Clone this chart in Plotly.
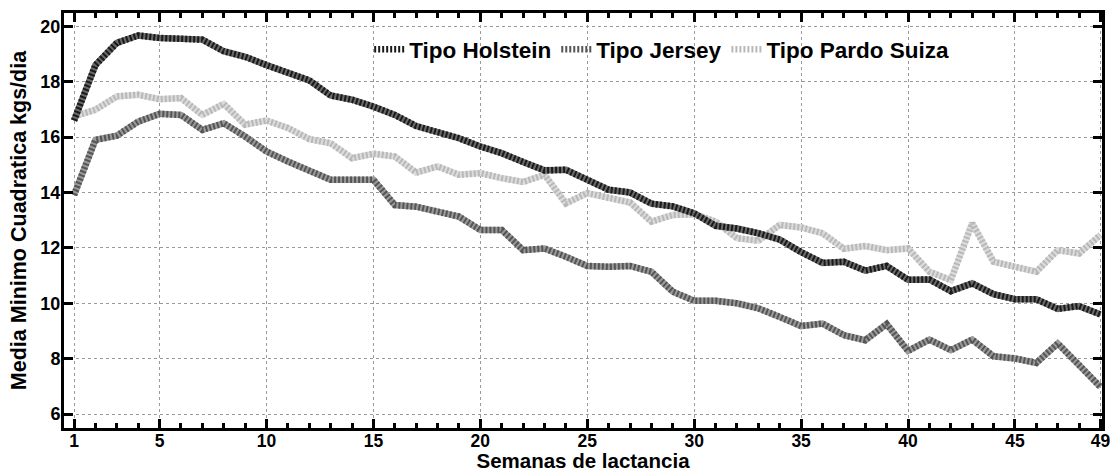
import plotly.graph_objects as go

weeks = list(range(1, 50))

holstein = [16.6, 18.6, 19.4, 19.67, 19.58, 19.55, 19.52, 19.1, 18.9, 18.6,
            18.3, 18.05, 17.5, 17.35, 17.1, 16.8, 16.4, 16.2, 15.96, 15.66,
            15.42, 15.1, 14.8, 14.82, 14.45, 14.1, 14.0, 13.6, 13.5, 13.25,
            12.8, 12.7, 12.53, 12.3, 11.85, 11.46, 11.5, 11.18, 11.35, 10.85,
            10.86, 10.44, 10.72, 10.33, 10.15, 10.15, 9.8, 9.9, 9.6]

jersey = [13.91, 15.9, 16.05, 16.56, 16.84, 16.8, 16.26, 16.5, 16.02, 15.48,
          15.12, 14.76, 14.46, 14.46, 14.46, 13.55, 13.49, 13.31, 13.13, 12.65,
          12.65, 11.92, 11.98, 11.68, 11.35, 11.32, 11.35, 11.14, 10.42, 10.09,
          10.09, 10.0, 9.82, 9.51, 9.18, 9.27, 8.85, 8.67, 9.25, 8.28,
          8.69, 8.31, 8.69, 8.09, 8.01, 7.85, 8.55, 7.77, 6.98]

pardo = [16.75, 16.99, 17.47, 17.53, 17.37, 17.41, 16.8, 17.2, 16.45, 16.6,
         16.33, 15.93, 15.78, 15.24, 15.4, 15.3, 14.72, 14.94, 14.64, 14.7,
         14.52, 14.38, 14.64, 13.61, 13.98, 13.79, 13.64, 12.95, 13.19, 13.22,
         12.95, 12.35, 12.26, 12.83, 12.74, 12.53, 11.97, 12.07, 11.92, 11.98,
         11.14, 10.84, 12.89, 11.5, 11.3, 11.14, 11.92, 11.8, 12.47]

x_tickvals = [1, 5, 10, 15, 20, 25, 30, 35, 40, 45, 49]
y_tickvals = [6, 8, 10, 12, 14, 16, 18, 20]

series = [
    ("Tipo Pardo Suiza", pardo, "#dcdcdc", "#b8b8b8", 3),
    ("Tipo Jersey", jersey, "#9a9a9a", "#555555", 2),
    ("Tipo Holstein", holstein, "#6a6a6a", "#1a1a1a", 1),
]

fig = go.Figure()
for name, vals, base_col, stripe_col, rank in series:
    fig.add_trace(go.Scatter(
        x=weeks, y=vals, mode="lines", showlegend=False, hoverinfo="skip",
        line=dict(color=base_col, width=6.5)))
    fig.add_trace(go.Scatter(
        x=weeks, y=vals, mode="lines", name=name, legendrank=rank,
        line=dict(color=stripe_col, width=6.5, dash="2px,2px")))

font_b = dict(family="Liberation Sans, Arial, sans-serif", color="black", weight="bold")

fig.update_layout(
    width=1111, height=472,
    margin=dict(l=64, r=9, t=13, b=44),
    paper_bgcolor="white", plot_bgcolor="white",
    font=dict(family="Liberation Sans, Arial, sans-serif", size=18, color="black"),
    legend=dict(orientation="h", x=0.294, xanchor="left", y=0.912, yanchor="middle",
                bgcolor="rgba(0,0,0,0)", font=dict(size=22.5, **font_b),
                itemwidth=30),
    showlegend=True,
)

fig.update_xaxes(
    range=[0.53, 49.07], tickmode="array", tickvals=x_tickvals,
    ticks="inside", ticklen=9, tickwidth=3, tickcolor="black",
    showline=True, linewidth=3, linecolor="black", mirror="ticks",
    showgrid=True, gridcolor="#9a9a9a", gridwidth=1, griddash="dot",
    zeroline=False, automargin=False, ticklabelstandoff=-5,
    tickfont=dict(size=17.5, **font_b),
    minor=dict(dtick=1, tick0=0, ticks="inside", ticklen=5, tickwidth=3,
               tickcolor="black", showgrid=False),
    title=dict(text="Semanas de lactancia", font=dict(size=20.5, **font_b), standoff=1),
)
fig.update_yaxes(
    range=[5.5, 20.48], tickmode="array", tickvals=y_tickvals,
    ticks="inside", ticklen=9, tickwidth=3, tickcolor="black",
    showline=True, linewidth=3, linecolor="black", mirror="ticks",
    showgrid=True, gridcolor="#9a9a9a", gridwidth=1, griddash="dot",
    zeroline=False, automargin=False, ticklabelstandoff=-3,
    tickfont=dict(size=18, **font_b),
    title=dict(text="Media Minimo Cuadratica kgs/dia", font=dict(size=21.5, **font_b), standoff=8),
)

fig.write_html("out.html", config={"displayModeBar": False},
               post_script="document.body.style.margin='0';document.body.style.overflow='hidden';")
